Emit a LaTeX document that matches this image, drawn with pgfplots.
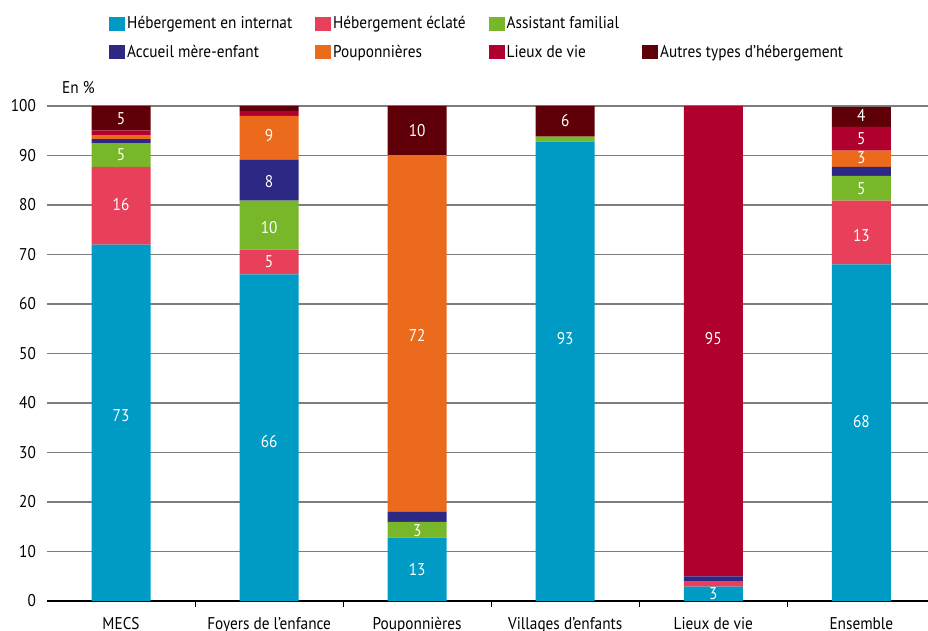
\documentclass[border=0pt]{standalone}
\usepackage{fontspec}
\setmainfont{PT Sans}[FakeStretch=0.9]
\usepackage{pgfplots}
\pgfplotsset{compat=1.18}
\definecolor{cInt}{HTML}{009BC4}
\definecolor{cEcl}{HTML}{E8405A}
\definecolor{cAss}{HTML}{78B72A}
\definecolor{cMer}{HTML}{2E2885}
\definecolor{cPou}{HTML}{EB6A1C}
\definecolor{cLie}{HTML}{B0002E}
\definecolor{cAut}{HTML}{5F0008}
\definecolor{cGrid}{RGB}{125,125,125}
\newcommand{\lbl}[3]{\node[text=white, font=\fontsize{17}{20}\selectfont] at (axis cs:#1,#2) {#3};}
\begin{document}
\fontsize{17}{20}\selectfont
\begin{tikzpicture}
\path[use as bounding box] (0,0) rectangle (928pt,630pt);
\begin{axis}[
  at={(47pt,29pt)}, anchor=south west,
  scale only axis, width=881pt, height=495pt,
  xmin=-0.5, xmax=5.45, ymin=0, ymax=100,
  ybar stacked, bar width=59pt,
  axis x line*=bottom, axis y line*=left,
  y axis line style={draw=none},
  x axis line style={black, line width=1.2pt},
  xtick={0,1,2,3,4,5},
  xticklabels={MECS, Foyers de l’enfance, Pouponnières, Villages d’enfants, Lieux de vie, Ensemble},
  minor xtick={0.5,1.5,2.5,3.5,4.5},
  major x tick style={draw=none},
  minor x tick style={black, line width=1pt},
  minor tick length=6pt,
  tick align=outside,
  ytick={0,10,...,100},
  ytick style={draw=none},
  ymajorgrids, grid style={cGrid, line width=1.3pt},
  yticklabel style={xshift=-1pt},
  xticklabel style={yshift=-6pt},
  /pgf/number format/assume math mode=true,
  tick label style={font=\fontsize{17}{20}\selectfont},
  legend style={at={(0.0704,1.185)}, anchor=north west, draw=none, fill=none,
    inner sep=0pt, row sep=9.5pt, font=\fontsize{17}{20}\selectfont,
    /tikz/every even column/.append style={column sep=21pt}},
  legend columns=4, legend cell align=left,
  legend image code/.code={\fill[#1] (0pt,-7pt) rectangle (16pt,7pt);},
  after end axis/.append code={
    \lbl{0}{37.4}{73}
    \lbl{0}{80}{16}
    \lbl{0}{90.1}{5}
    \lbl{0}{97.4}{5}
    \lbl{1}{32.3}{66}
    \lbl{1}{68.5}{5}
    \lbl{1}{75.5}{10}
    \lbl{1}{84.8}{8}
    \lbl{1}{94}{9}
    \lbl{2}{6.3}{13}
    \lbl{2}{14.3}{3}
    \lbl{2}{53.7}{72}
    \lbl{2}{95}{10}
    \lbl{3}{53.1}{93}
    \lbl{3}{97}{6}
    \lbl{4}{1.4}{3}
    \lbl{4}{53.1}{95}
    \lbl{5}{36.2}{68}
    \lbl{5}{73.9}{13}
    \lbl{5}{83.4}{5}
    \lbl{5}{89.5}{3}
    \lbl{5}{93.4}{5}
    \lbl{5}{98.1}{4}
  },
]
\addplot[fill=cInt, draw=none, forget plot] coordinates {(0,72) (1,66) (2,12.8) (3,92.8) (4,2.9) (5,68)};
\addplot[fill=cEcl, draw=none, forget plot] coordinates {(0,15.7) (1,5) (2,0) (3,0) (4,1.1) (5,12.9)};
\addplot[fill=cAss, draw=none, forget plot] coordinates {(0,4.8) (1,9.9) (2,3.2) (3,1) (4,0) (5,5)};
\addplot[fill=cMer, draw=none, forget plot] coordinates {(0,0.8) (1,8.2) (2,2) (3,0) (4,1) (5,1.8)};
\addplot[fill=cPou, draw=none, forget plot] coordinates {(0,0.8) (1,8.9) (2,72.1) (3,0) (4,0) (5,3.3)};
\addplot[fill=cLie, draw=none, forget plot] coordinates {(0,1) (1,1) (2,0) (3,0) (4,95) (5,4.8)};
\addplot[fill=cAut, draw=none, forget plot] coordinates {(0,4.9) (1,1) (2,9.9) (3,6.2) (4,0) (5,4)};

\addlegendimage{fill=cInt, draw=none}
\addlegendentry{Hébergement en internat}
\addlegendimage{fill=cEcl, draw=none}
\addlegendentry{Hébergement éclaté}
\addlegendimage{fill=cAss, draw=none}
\addlegendentry{Assistant familial}
\addlegendimage{fill=white, draw=none}
\addlegendentry{}
\addlegendimage{fill=cMer, draw=none}
\addlegendentry{Accueil mère-enfant}
\addlegendimage{fill=cPou, draw=none}
\addlegendentry{Pouponnières}
\addlegendimage{fill=cLie, draw=none}
\addlegendentry{Lieux de vie}
\addlegendimage{fill=cAut, draw=none}
\addlegendentry{Autres types d’hébergement}
\end{axis}
\node[anchor=west, inner sep=0pt] at (62pt,542pt) {En \%};
\end{tikzpicture}
\end{document}
